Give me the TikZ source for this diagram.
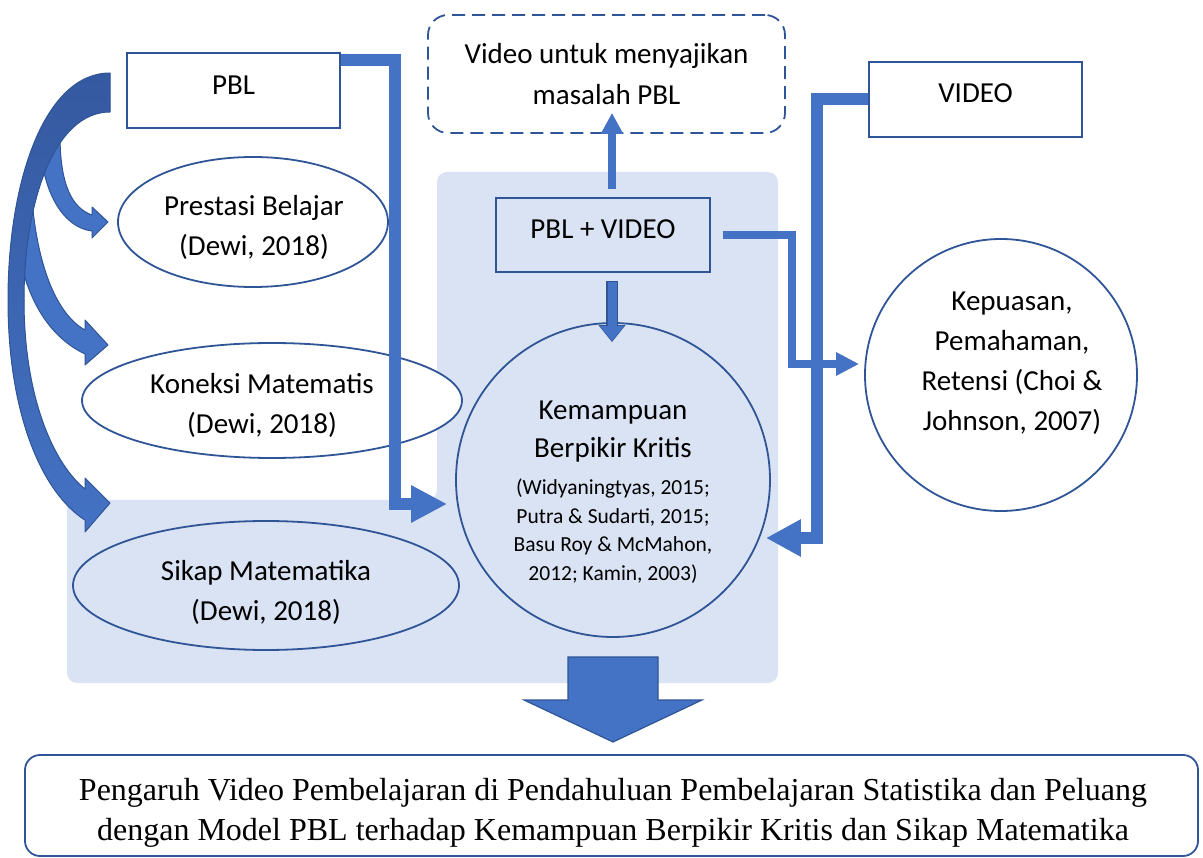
\documentclass[tikz,border=0pt]{standalone}
\usepackage{fontspec}
\setmainfont{Carlito}
\newfontfamily\timesfont{Liberation Serif}
\usetikzlibrary{arrows.meta,calc,shapes.geometric}
\definecolor{bgblue}{HTML}{DAE3F3}
\definecolor{lineblue}{HTML}{2F5597}
\definecolor{arrblue}{HTML}{4472C4}
\definecolor{darkarr}{HTML}{3559A0}
\begin{document}
\begin{tikzpicture}[x=1pt,y=-1pt,
  box/.style={draw=lineblue,line width=1.8pt,fill=white,minimum width=213pt,minimum height=75pt,inner sep=0pt},
  dbox/.style={draw=lineblue,line width=1.8pt,dash pattern=on 13pt off 7pt,rounded corners=20pt,fill=white,minimum width=357pt,minimum height=118pt,inner sep=0pt,align=center,font=\fontsize{29}{41}\selectfont},
  ell/.style={ellipse,draw=lineblue,line width=1.8pt,fill=white,inner sep=0pt},
  circ/.style={circle,draw=lineblue,line width=1.8pt,inner sep=0pt},
  lbl/.style={align=center,inner sep=0pt,font=\fontsize{29}{40}\selectfont},
  conn/.style={draw=arrblue},
  curvearr/.style={fill=arrblue,draw=lineblue,line width=1pt,line join=round},
]
\useasboundingbox (0,0) rectangle (1203,858);
% background region
\fill[bgblue,rounded corners=10pt] (437,172) -- (778,172) -- (778,683) -- (67,683) -- (67,500) -- (437,500) -- cycle;

% shapes
\node[box] (pbl) at (233.5,90.5) {};
\node[box] (video) at (975.5,99.5) {};
\node[box,fill=none,minimum width=214pt,minimum height=74pt] (pv) at (603,235) {};
\node[dbox] (vid) at (606.5,74) {Video untuk menyajikan\\masalah PBL};
\node[ell,minimum width=270pt,minimum height=130pt] (pres) at (253,222) {};
\node[ell,minimum width=380pt,minimum height=115pt] (kon) at (272,400.5) {};
\node[ell,fill=none,minimum width=386pt,minimum height=129pt] (sik) at (266,585.5) {};
\node[circ,minimum size=314pt] (kem) at (613,480) {};
\node[circ,fill=white,minimum size=272pt] (kep) at (1001,375) {};
\node[draw=lineblue,line width=1.8pt,rounded corners=15pt,minimum width=1173pt,minimum height=101pt,inner sep=0pt] (res) at (611.5,805.5) {};

% labels
\node[lbl] (pbltxt) at (233.5,85.5) {PBL};
\node[lbl] (videotxt) at (975.5,93.5) {VIDEO};
\node[lbl] (pvtxt) at (603,229.5) {PBL + VIDEO};
\node[lbl] (prestxt) at (254,227) {Prestasi Belajar\\(Dewi, 2018)};
\node[lbl] (kontxt) at (262,405) {Koneksi Matematis\\(Dewi, 2018)};
\node[lbl] (siktxt) at (266,592) {Sikap Matematika\\(Dewi, 2018)};
\node[lbl,font=\fontsize{29}{38}\selectfont] (kemtxt) at (613,432) {Kemampuan\\Berpikir Kritis};
\node[lbl,font=\fontsize{21.5}{28.5}\selectfont] (kemref) at (613,531) {(Widyaningtyas, 2015;\\Putra \& Sudarti, 2015;\\Basu Roy \& McMahon,\\2012; Kamin, 2003)};
\node[lbl] (keptxt) at (1012,363) {Kepuasan,\\Pemahaman,\\Retensi (Choi \&\\Johnson, 2007)};
\node[lbl,font=\timesfont\fontsize{32}{40}\selectfont] (restxt) at (613,813)
  {Pengaruh Video Pembelajaran di Pendahuluan Pembelajaran Statistika dan Peluang\\dengan Model PBL terhadap Kemampuan Berpikir Kritis dan Sikap Matematika};

% connectors
\draw[conn,line width=12pt,-{Triangle[length=36pt,width=35pt]}]
  ([yshift=-8pt]pbl.north east) -- ++(54,0) |- ($(kem.west)+(-8,24)$);
\coordinate (pvtop) at ([xshift=9pt,yshift=8pt]pv.north);
\draw[conn,line width=8pt,-{Triangle[length=21pt,width=21pt]}]
  (pvtop) -- (pvtop |- {$(vid.south)+(0,-21)$});
\coordinate (pvbot) at ([xshift=9pt,yshift=-8pt]pv.south);
\draw[lineblue,line width=12pt,-{Triangle[length=17pt,width=26pt]}]
  (pvbot) -- (pvbot |- {$(kem.north)+(0,20)$});
\draw[conn,line width=9pt,-{Triangle[length=15pt,width=23pt]}]
  ([yshift=-1pt]pvbot) -- (pvbot |- {$(kem.north)+(0,19)$});
\draw[conn,line width=8pt,-{Triangle[length=23pt,width=22pt]}]
  ([xshift=12pt]pv.east) -- ++(69,0) |- ($(kep.west)+(-5,-11)$);
\draw[conn,line width=12pt,-{Triangle[length=35pt,width=35pt]}]
  (video.west) -- ++(-51.5,0) |- ($(kem.east)+(-5,58)$);

% curved arrows on the left (from PBL)
\path[curvearr] (40,140) .. controls (42,195) and (65,228) .. (92,231) -- (92,238) -- (108,222) -- (92,207) -- (92,215)
  .. controls (72,208) and (60,185) .. (60,135) -- cycle;
\path[curvearr] (14,220) .. controls (20,290) and (45,335) .. (85,354) -- (85,365) -- (108,345) -- (85,320) -- (85,330)
  .. controls (58,315) and (38,270) .. (32,200) -- cycle;
\path[curvearr,top color=darkarr,bottom color=arrblue] (110,73) .. controls (45,73) and (8,180) .. (8,300)
  .. controls (8,420) and (45,495) .. (85,520) -- (85,532) -- (110,503) -- (85,478) -- (85,489)
  .. controls (55,465) and (24,400) .. (24,300) .. controls (24,200) and (55,112) .. (110,112) -- cycle;

% big down arrow
\path[fill=arrblue,draw=lineblue,line width=1.2pt] (568,657) -- (658,657) -- (658,700) -- (702,700) -- (613,742) -- (524,700) -- (568,700) -- cycle;
\end{tikzpicture}
\end{document}
